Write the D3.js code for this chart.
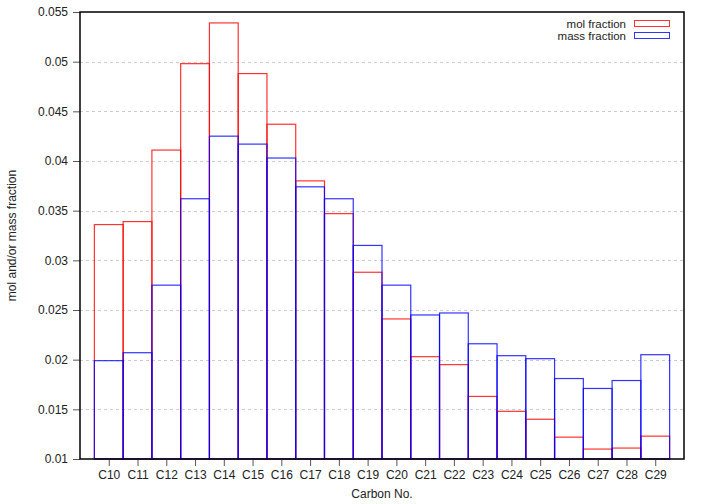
<!DOCTYPE html>
<html><head><meta charset="utf-8">
<script src="https://cdn.jsdelivr.net/npm/d3@7"></script>
<style>
body{margin:0;background:#fff;}
text{font-family:"Liberation Sans",Arial,Helvetica,sans-serif;}
</style></head>
<body>
<svg id="chart" width="705" height="504"></svg>
<script>
const categories = ["C10","C11","C12","C13","C14","C15","C16","C17","C18","C19","C20","C21","C22","C23","C24","C25","C26","C27","C28","C29"];
const molFraction = [0.0336,0.0339,0.0411,0.0498,0.0539,0.0488,0.0437,0.0380,0.0347,0.0288,0.0241,0.0203,0.0195,0.0163,0.0148,0.0140,0.0122,0.0110,0.0111,0.0123];
const massFraction = [0.0199,0.0207,0.0275,0.0362,0.0425,0.0417,0.0403,0.0374,0.0362,0.0315,0.0275,0.0245,0.0247,0.0216,0.0204,0.0201,0.0181,0.0171,0.0179,0.0205];
const yTicks = [0.01,0.015,0.02,0.025,0.03,0.035,0.04,0.045,0.05,0.055];
const seriesNames = ["mol fraction","mass fraction"];
const seriesColors = ["#ff0000","#0000ff"];

const svg = d3.select("#chart");
const m = {left:80, top:12, right:684, bottom:459};
const x = d3.scaleLinear().domain([-1, 20]).range([m.left, m.right]);
const y = d3.scaleLinear().domain([0.01, 0.055]).range([m.bottom, m.top]);

// grid
svg.append("g").selectAll("line").data(yTicks.slice(1, -1)).join("line")
  .attr("x1", m.left).attr("x2", m.right)
  .attr("y1", d => Math.round(y(d)) + 0.5).attr("y2", d => Math.round(y(d)) + 0.5)
  .attr("stroke", "#cccccc").attr("stroke-width", 1).attr("stroke-dasharray", "3,3");

// boxes
const series = [molFraction, massFraction];
series.forEach((vals, si) => {
  svg.append("g").selectAll("rect").data(vals).join("rect")
    .attr("x", (d, i) => x(i - 0.5))
    .attr("width", x(1) - x(0))
    .attr("y", d => y(d))
    .attr("height", d => y(0.01) - y(d))
    .attr("fill", "none")
    .attr("stroke", seriesColors[si])
    .attr("stroke-width", 1.2)
    .attr("stroke-opacity", 0.8);
});

// y axis
const yAxis = d3.axisLeft(y).tickValues(yTicks).tickFormat(d => d3.format("")(+d.toFixed(3))).tickSize(7).tickPadding(5);
const gy = svg.append("g").attr("transform", `translate(${m.left},0)`).call(yAxis);
gy.select(".domain").remove();
gy.selectAll(".tick line").attr("stroke", "#555");
gy.selectAll(".tick text").attr("font-size", 12).attr("fill", "#222").attr("font-family", "Liberation Sans, Arial, sans-serif");

// x axis
const xAxis = d3.axisBottom(x).tickValues(d3.range(categories.length)).tickFormat(i => categories[i]).tickSize(7).tickPadding(4);
const gx = svg.append("g").attr("transform", `translate(0,${m.bottom})`).call(xAxis);
gx.select(".domain").remove();
gx.selectAll(".tick line").attr("stroke", "#555");
gx.selectAll(".tick text").attr("font-size", 12).attr("fill", "#222").attr("font-family", "Liberation Sans, Arial, sans-serif");

// border
svg.append("rect").attr("x", m.left).attr("y", m.top)
  .attr("width", m.right - m.left).attr("height", m.bottom - m.top)
  .attr("fill", "none").attr("stroke", "#000").attr("stroke-width", 1.5);

// axis labels
svg.append("text").attr("x", (m.left + m.right) / 2).attr("y", 498)
  .attr("text-anchor", "middle").attr("font-size", 12).attr("fill", "#222").text("Carbon No.");
svg.append("text").attr("transform", `translate(16,${(m.top + m.bottom) / 2}) rotate(-90)`)
  .attr("text-anchor", "middle").attr("font-size", 12).attr("fill", "#222").text("mol and/or mass fraction");

// legend
const leg = svg.append("g");
seriesNames.forEach((name, i) => {
  const ly = 24 + i * 12;
  leg.append("text").attr("x", 626).attr("y", ly + 4).attr("text-anchor", "end")
    .attr("font-size", 11.5).attr("fill", "#222").text(name);
  leg.append("rect").attr("x", 634.5).attr("y", ly - 3.5).attr("width", 35).attr("height", 6)
    .attr("fill", "none").attr("stroke", seriesColors[i]).attr("stroke-width", 1).attr("stroke-opacity", 0.8);
});
</script>
</body></html>
